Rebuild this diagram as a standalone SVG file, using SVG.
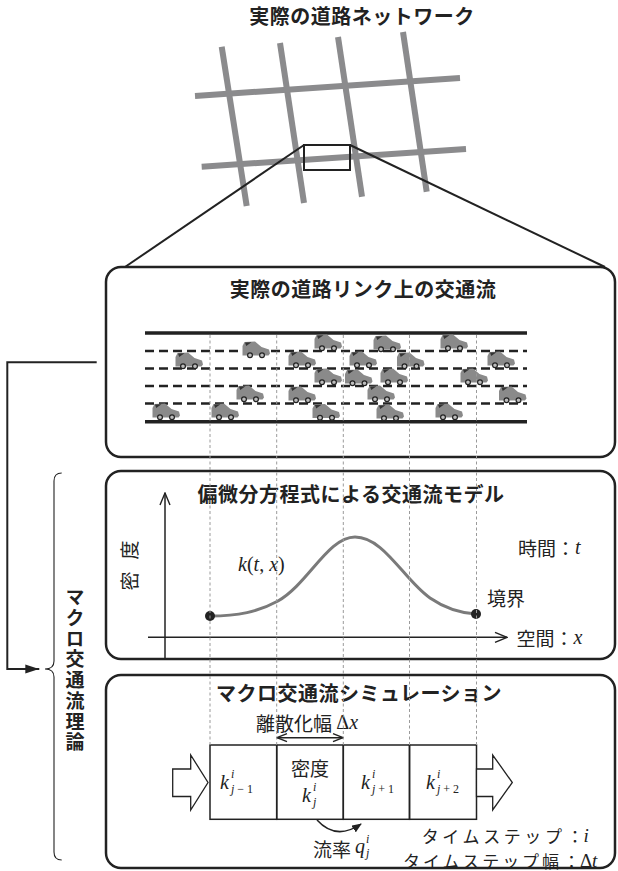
<svg xmlns="http://www.w3.org/2000/svg" xmlns:xlink="http://www.w3.org/1999/xlink" width="618" height="871" viewBox="0 0 618 871">
  <style>
    .jp { font-family: "Noto Sans CJK JP", "Noto Sans", sans-serif; fill: #222; }
    .title { font-size: 20px; font-weight: bold; letter-spacing: 0.5px; }
    .lbl { font-size: 19px; font-weight: normal; }
    .math { font-family: "Liberation Serif", "DejaVu Serif", serif; font-style: italic; fill: #222; }
    .up { font-style: normal; }
    .panel { fill: none; stroke: #222; stroke-width: 2.5; }
    .road-grid line { stroke: #8b8b8d; stroke-width: 6; }
    .edge { stroke: #222; stroke-width: 3.5; }
    .lane { stroke: #222; stroke-width: 2.5; stroke-dasharray: 9 5; }
    .guide { stroke: #9a9a9a; stroke-width: 1; stroke-dasharray: 3 2.5; }
    .thin { stroke: #222; stroke-width: 1.5; fill: none; }
    .cell { fill: none; stroke: #222; stroke-width: 1.5; }
  </style>
  <defs>
    <marker id="openHead" viewBox="0 0 14 12" refX="13" refY="6" markerWidth="14" markerHeight="12" markerUnits="userSpaceOnUse" orient="auto-start-reverse">
      <path d="M1,1 L13,6 L1,11" fill="none" stroke="#222" stroke-width="1.4"/>
    </marker>
    <marker id="smallHead" viewBox="0 0 12 10" refX="11" refY="5" markerWidth="12" markerHeight="10" markerUnits="userSpaceOnUse" orient="auto-start-reverse">
      <path d="M1,1 L11,5 L1,9" fill="none" stroke="#222" stroke-width="1.4"/>
    </marker>
    <marker id="solidHead" viewBox="0 0 14 10" refX="14" refY="5" markerWidth="14" markerHeight="10" markerUnits="userSpaceOnUse" orient="auto">
      <path d="M0,0.5 L14,5 L0,9.5 Z" fill="#222"/>
    </marker>
    <marker id="curveHead" viewBox="0 0 10 8" refX="9" refY="4" markerWidth="10" markerHeight="8" markerUnits="userSpaceOnUse" orient="auto">
      <path d="M0,0 L10,4 L0,8 Z" fill="#222"/>
    </marker>
    <!-- small hatchback car, 28 x 17 -->
    <g id="car">
      <path d="M0.5,5 L2.5,1 L13,0.5 L19.5,6 L27,8.5 L28,12.5 L26.5,14.5 L0.5,14.5 Z" fill="#8a8a8a"/>
      <path d="M3,1.6 L9.5,1.2 L4.2,5 Z" fill="#333"/>
      <circle cx="8" cy="14.3" r="2.4" fill="#bdbdbd" stroke="#222" stroke-width="1.2"/>
      <circle cx="20" cy="14.3" r="2.4" fill="#bdbdbd" stroke="#222" stroke-width="1.2"/>
    </g>
  </defs>

  <!-- road network -->
  <g id="network">
    <text class="jp title" x="362" y="15" text-anchor="middle" dominant-baseline="central">実際の道路ネットワーク</text>
    <g class="road-grid">
      <line x1="221.7" y1="46.7" x2="246.7" y2="206"/>
      <line x1="280" y1="43" x2="304" y2="203"/>
      <line x1="338" y1="37" x2="362" y2="196.7"/>
      <line x1="403" y1="32" x2="426.7" y2="191.7"/>
      <line x1="195" y1="96" x2="460" y2="78"/>
      <line x1="201.7" y1="166.7" x2="466" y2="149"/>
    </g>
    <rect x="304" y="145" width="46" height="25" fill="none" stroke="#222" stroke-width="2"/>
  </g>

  <!-- zoom-in lines to the link panel, feedback bracket -->
  <g id="connectors">
    <line x1="304" y1="145" x2="125" y2="267" stroke="#222" stroke-width="2"/>
    <line x1="350" y1="145" x2="605" y2="267" stroke="#222" stroke-width="2"/>
    <polyline points="96.7,362.3 7.3,362.3 7.3,669 39.3,669" fill="none" stroke="#222" stroke-width="2" marker-end="url(#solidHead)"/>
    <path d="M61.7,473 Q54,473 54,481 L54,661 Q54,669 45,669 Q54,669 54,677 L54,852 Q54,860 61.7,860" fill="none" stroke="#222" stroke-width="1.1"/>
  </g>

  <!-- macro theory label (vertical) -->
  <g id="theory-label">
    <text class="jp" x="75" y="587.6" font-size="19" font-weight="bold" writing-mode="vertical-rl" letter-spacing="1.7">マクロ交通流理論</text>
  </g>

  <!-- panel 1: traffic on a road link -->
  <g id="panel-link">
    <rect class="panel" x="106" y="267" width="509" height="190" rx="15"/>
    <text class="jp title" x="363" y="288" text-anchor="middle" dominant-baseline="central">実際の道路リンク上の交通流</text>
    <line class="edge" x1="145" y1="333" x2="527" y2="333"/>
    <line class="edge" x1="145" y1="421.7" x2="527" y2="421.7"/>
    <line class="lane" x1="145" y1="351" x2="527" y2="351"/>
    <line class="lane" x1="145" y1="368.5" x2="527" y2="368.5"/>
    <line class="lane" x1="145" y1="386" x2="527" y2="386"/>
    <line class="lane" x1="145" y1="403.5" x2="527" y2="403.5"/>
    <g id="cars">
      <use href="#car" x="175" y="352"/>
      <use href="#car" x="242" y="341"/>
      <use href="#car" x="288" y="351"/>
      <use href="#car" x="314" y="334"/>
      <use href="#car" x="314" y="368"/>
      <use href="#car" x="349" y="351"/>
      <use href="#car" x="344.5" y="369"/>
      <use href="#car" x="373" y="335"/>
      <use href="#car" x="380" y="368"/>
      <use href="#car" x="396.5" y="352"/>
      <use href="#car" x="440" y="334"/>
      <use href="#car" x="460" y="368"/>
      <use href="#car" x="487" y="351"/>
      <use href="#car" x="498.5" y="386"/>
      <use href="#car" x="236" y="385"/>
      <use href="#car" x="288" y="386"/>
      <use href="#car" x="367" y="385"/>
      <use href="#car" x="152" y="403"/>
      <use href="#car" x="211" y="403"/>
      <use href="#car" x="312" y="403.5"/>
      <use href="#car" x="376" y="404"/>
      <use href="#car" x="435" y="403"/>
    </g>
  </g>

  <!-- panel 2: PDE traffic flow model -->
  <g id="panel-model">
    <rect class="panel" x="106" y="471" width="509" height="188" rx="15"/>
    <text class="jp title" x="351" y="493.5" text-anchor="middle" dominant-baseline="central">偏微分方程式による交通流モデル</text>
    <line class="thin" x1="165" y1="658" x2="165" y2="493" marker-end="url(#openHead)"/>
    <line class="thin" x1="148" y1="637.3" x2="507" y2="637.3" marker-end="url(#openHead)"/>
    <text class="jp lbl" transform="translate(127.5,565) rotate(-90)" text-anchor="middle" dominant-baseline="central"><tspan x="-16" y="0">密</tspan><tspan x="15" y="0">度</tspan></text>
    <path d="M210,616 C238,616 258,612 278,601 C308,584 328,537 355,537 C384,537 404,580 430,598 C446,609 460,613 476,614" fill="none" stroke="#7a7a7a" stroke-width="3"/>
    <circle cx="210" cy="616" r="5" fill="#222"/>
    <circle cx="476" cy="614" r="5" fill="#222"/>
    <text class="math" x="238" y="571" font-size="20">k<tspan class="up">(</tspan>t<tspan class="up">,</tspan> x<tspan class="up">)</tspan></text>
    <text class="jp lbl" x="518" y="547" dominant-baseline="central">時間：<tspan class="math" font-size="20">t</tspan></text>
    <text class="jp lbl" x="487" y="597" dominant-baseline="central">境界</text>
    <text class="jp lbl" x="516.5" y="637" dominant-baseline="central">空間：<tspan class="math" font-size="20">x</tspan></text>
  </g>

  <!-- panel 3: macro simulation -->
  <g id="panel-simulation">
    <rect class="panel" x="106" y="675" width="509" height="193" rx="15"/>
    <text class="jp title" x="359" y="692" text-anchor="middle" dominant-baseline="central">マクロ交通流シミュレーション</text>
    <text class="jp lbl" x="256" y="722" dominant-baseline="central">離散化幅 <tspan class="math up" font-size="20">Δ</tspan><tspan class="math" font-size="20">x</tspan></text>
    <line class="thin" x1="277" y1="737.7" x2="343" y2="737.7" marker-start="url(#smallHead)" marker-end="url(#smallHead)"/>
    <g id="cells">
      <rect class="cell" x="210" y="745" width="66.7" height="74.3"/>
      <rect class="cell" x="276.7" y="745" width="66.6" height="74.3"/>
      <rect class="cell" x="343.3" y="745" width="66.2" height="74.3"/>
      <rect class="cell" x="409.5" y="745" width="67" height="74.3"/>
    </g>
    <!-- inflow / outflow block arrows -->
    <polygon points="172.7,769 190.7,769 190.7,755 208,782.5 190.7,810 190.7,796.5 172.7,796.5" fill="#fff" stroke="#222" stroke-width="1.3"/>
    <polygon points="476.5,769 492.7,769 492.7,755 512.3,782.5 492.7,810 492.7,796.5 476.5,796.5" fill="#fff" stroke="#222" stroke-width="1.3"/>
    <!-- cell values -->
    <text class="math" x="220" y="789" font-size="20">k</text>
    <text class="math" x="231" y="778" font-size="12">i</text>
    <text class="math" x="231" y="793" font-size="12">j<tspan class="up"> − 1</tspan></text>
    <text class="jp lbl" x="310" y="767" text-anchor="middle" dominant-baseline="central">密度</text>
    <text class="math" x="302" y="802" font-size="20">k</text>
    <text class="math" x="313" y="791" font-size="12">i</text>
    <text class="math" x="313" y="806" font-size="12">j</text>
    <text class="math" x="361" y="789" font-size="20">k</text>
    <text class="math" x="372" y="778" font-size="12">i</text>
    <text class="math" x="372" y="793" font-size="12">j<tspan class="up"> + 1</tspan></text>
    <text class="math" x="426" y="789" font-size="20">k</text>
    <text class="math" x="437" y="778" font-size="12">i</text>
    <text class="math" x="437" y="793" font-size="12">j<tspan class="up"> + 2</tspan></text>
    <!-- flux between cells -->
    <path d="M317,820 Q336,841 361,824" fill="none" stroke="#222" stroke-width="1.5" marker-end="url(#curveHead)"/>
    <text class="jp lbl" x="313" y="848" dominant-baseline="central">流率</text>
    <text class="math" x="355" y="853" font-size="20">q</text>
    <text class="math" x="366" y="843" font-size="12">i</text>
    <text class="math" x="366" y="857" font-size="12">j</text>
    <text class="jp" font-size="17" x="421.7" y="834.5" dominant-baseline="central"><tspan letter-spacing="3.6">タイムステップ</tspan><tspan dx="1">：</tspan><tspan class="math" font-size="19">i</tspan></text>
    <text class="jp" font-size="17" x="403" y="860" dominant-baseline="central"><tspan letter-spacing="2.9">タイムステップ幅</tspan><tspan dx="1">：</tspan><tspan class="math up" font-size="19">Δ</tspan><tspan class="math" font-size="19">t</tspan></text>
  </g>

  <!-- guide lines from the road down to the cells -->
  <g id="guides">
    <line class="guide" x1="210" y1="335" x2="210" y2="745"/>
    <line class="guide" x1="276.7" y1="335" x2="276.7" y2="745"/>
    <line class="guide" x1="343.3" y1="335" x2="343.3" y2="745"/>
    <line class="guide" x1="409.5" y1="335" x2="409.5" y2="745"/>
    <line class="guide" x1="476.5" y1="335" x2="476.5" y2="745"/>
  </g>
</svg>
